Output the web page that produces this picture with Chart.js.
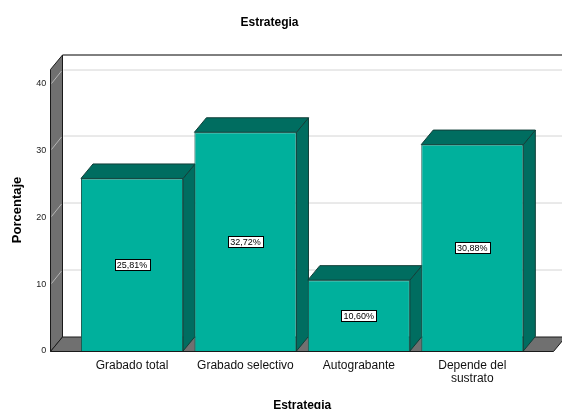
<!DOCTYPE html>
<html>
<head>
<meta charset="utf-8">
<title>Estrategia</title>
<script src="https://cdn.jsdelivr.net/npm/chart.js@4.4.1/dist/chart.umd.min.js"></script>
<style>
  html, body { margin: 0; padding: 0; background: #fff; }
  #wrap { width: 562px; height: 409px; position: relative; }
</style>
</head>
<body>
<div id="wrap"><canvas id="grafico"></canvas></div>
<script>
// Datos del gráfico
const categorias = ["Grabado total", "Grabado selectivo", "Autograbante", ["Depende del", "sustrato"]];
const porcentajes = [25.81, 32.72, 10.60, 30.88];
const ticksY = [0, 10, 20, 30, 40];
const tituloGrafico = "Estrategia";
const tituloX = "Estrategia";
const tituloY = "Porcentaje";

const FUENTE = '"Liberation Sans", Arial, sans-serif';
const FONDO_X = 12;      // profundidad 3D en x
const FONDO_Y = 14.5;    // profundidad 3D en y
const MARGEN_IZQ = 25;   // pared/suelo a la izquierda del área
const MARGEN_DER = 24;   // suelo a la derecha del área

function poligono(ctx, puntos, relleno, borde) {
    ctx.beginPath();
    puntos.forEach(([px, py], i) => i ? ctx.lineTo(px, py) : ctx.moveTo(px, py));
    ctx.closePath();
    ctx.fillStyle = relleno;
    ctx.fill();
    if (borde) {
        ctx.strokeStyle = borde;
        ctx.lineWidth = 1;
        ctx.stroke();
    }
}

// Paredes, suelo y caras 3D de las barras
const caja3d = {
    id: 'caja3d',
    beforeDatasetsDraw(chart) {
        const { ctx, chartArea: a, scales: { y } } = chart;
        const x0 = Math.round(a.left - MARGEN_IZQ) + 0.5;
        const x1 = Math.round(a.right + MARGEN_DER) + 0.5;
        const top = Math.round(a.top) + 0.5;
        const bot = Math.round(a.bottom) + 0.5;
        ctx.save();

        // pared del fondo
        ctx.fillStyle = '#fff';
        ctx.fillRect(x0 + FONDO_X, top - FONDO_Y, x1 - x0, bot - top);
        ctx.strokeStyle = '#000';
        ctx.lineWidth = 1;
        ctx.beginPath();
        ctx.moveTo(x0 + FONDO_X, top - FONDO_Y);
        ctx.lineTo(x1 + FONDO_X, top - FONDO_Y);
        ctx.stroke();

        // pared izquierda
        poligono(ctx, [[x0, top], [x0 + FONDO_X, top - FONDO_Y], [x0 + FONDO_X, bot - FONDO_Y], [x0, bot]], '#707070', '#1a1a1a');

        // líneas de cuadrícula
        ticksY.slice(1).forEach(v => {
            const py = Math.round(y.getPixelForValue(v)) + 0.5;
            ctx.strokeStyle = '#d4d4d4';
            ctx.beginPath();
            ctx.moveTo(x0 + FONDO_X + 1, py - FONDO_Y);
            ctx.lineTo(x1 + FONDO_X, py - FONDO_Y);
            ctx.stroke();
            ctx.strokeStyle = '#b4b4b4';
            ctx.beginPath();
            ctx.moveTo(x0 + 1, py - 1);
            ctx.lineTo(x0 + FONDO_X - 1, py - FONDO_Y + 1);
            ctx.stroke();
        });

        // suelo
        poligono(ctx, [[x0, bot], [x1, bot], [x1 + FONDO_X, bot - FONDO_Y], [x0 + FONDO_X, bot - FONDO_Y]], '#707070', '#1a1a1a');

        // caras superior y lateral de cada barra
        chart.getDatasetMeta(0).data.forEach(el => {
            const { x, y: yTop, base, width } = el.getProps(['x', 'y', 'base', 'width'], true);
            const izq = x - width / 2, der = x + width / 2;
            poligono(ctx, [[der, yTop], [der + FONDO_X, yTop - FONDO_Y], [der + FONDO_X, base - FONDO_Y], [der, base]], '#006d60', '#123f39');
            poligono(ctx, [[izq, yTop], [der, yTop], [der + FONDO_X, yTop - FONDO_Y], [izq + FONDO_X, yTop - FONDO_Y]], '#006d60', '#123f39');
        });
        ctx.restore();
    },
    afterDatasetsDraw(chart) {
        // etiquetas de porcentaje
        const { ctx } = chart;
        ctx.save();
        ctx.font = '9px ' + FUENTE;
        ctx.textAlign = 'center';
        ctx.textBaseline = 'middle';
        chart.getDatasetMeta(0).data.forEach((el, i) => {
            const { x, y: yTop, base } = el.getProps(['x', 'y', 'base'], true);
            const texto = porcentajes[i].toFixed(2).replace('.', ',') + '%';
            const w = Math.round(ctx.measureText(texto).width) + 4;
            const cy = Math.round((yTop + base) / 2);
            const bx = Math.round(x - w / 2) + 0.5, by = cy - 5.5;
            ctx.fillStyle = '#fff';
            ctx.fillRect(bx, by, w, 11);
            ctx.strokeStyle = '#000';
            ctx.lineWidth = 1;
            ctx.strokeRect(bx, by, w, 11);
            ctx.fillStyle = '#000';
            ctx.fillText(texto, x, cy + 0.5);
        });
        ctx.restore();
    }
};

new Chart(document.getElementById('grafico'), {
    type: 'bar',
    data: {
        labels: categorias,
        datasets: [{
            data: porcentajes,
            backgroundColor: '#00b09c',
            borderColor: '#1b5a51',
            borderWidth: 1,
            barPercentage: 0.9,
            categoryPercentage: 1
        }]
    },
    options: {
        responsive: true,
        maintainAspectRatio: false,
        animation: false,
        layout: { padding: { left: 10, right: 33, top: 0, bottom: 0 } },
        plugins: {
            legend: { display: false },
            tooltip: { enabled: false },
            title: {
                display: true,
                text: tituloGrafico,
                color: '#000',
                font: { family: FUENTE, size: 12, weight: 'bold' },
                padding: { top: 15, bottom: 39.5 }
            }
        },
        scales: {
            x: {
                grid: { display: false, drawTicks: false },
                border: { display: false },
                ticks: {
                    color: '#111',
                    font: { family: FUENTE, size: 12, lineHeight: 1.1 },
                    padding: 8,
                    maxRotation: 0,
                    autoSkip: false
                },
                title: {
                    display: true,
                    text: tituloX,
                    color: '#000',
                    font: { family: FUENTE, size: 12, weight: 'bold' },
                    padding: { top: 0, bottom: -4 }
                },
                afterFit: s => { s.height = 58; }
            },
            y: {
                min: 0,
                max: 42.2,
                grid: { display: false, drawTicks: false },
                border: { display: false },
                ticks: {
                    color: '#222',
                    font: { family: FUENTE, size: 9 },
                    padding: 29
                },
                afterBuildTicks: s => { s.ticks = ticksY.map(v => ({ value: v })); },
                title: {
                    display: true,
                    text: tituloY,
                    color: '#000',
                    font: { family: FUENTE, size: 13, weight: 'bold' },
                    padding: { top: 0, bottom: 0 }
                },
                afterFit: s => { s.width = 65.3; }
            }
        }
    },
    plugins: [caja3d]
});
</script>
</body>
</html>
